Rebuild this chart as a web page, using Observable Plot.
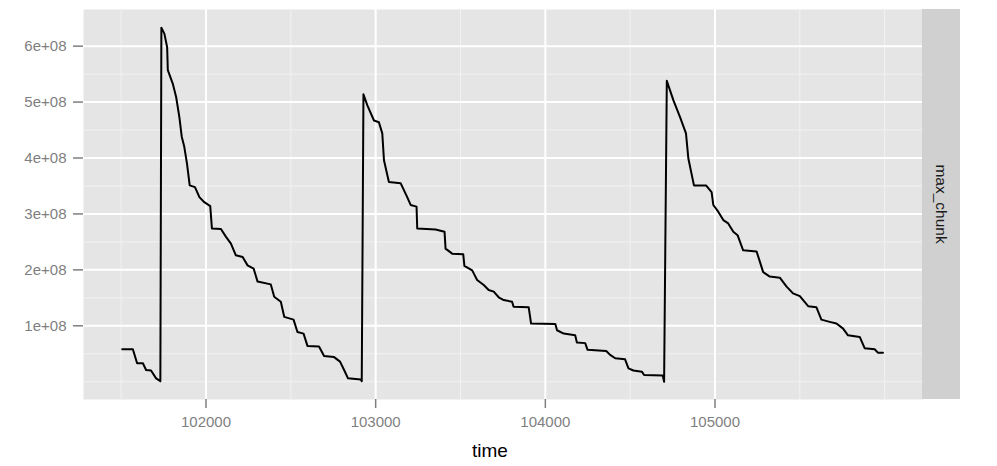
<!DOCTYPE html>
<html>
<head>
<meta charset="utf-8">
<script src="https://cdn.jsdelivr.net/npm/d3@7"></script>
<script src="https://cdn.jsdelivr.net/npm/@observablehq/plot@0.6"></script>
<style>
  html, body { margin: 0; padding: 0; background: #ffffff; }
  #chart { width: 997px; height: 466px; }
</style>
</head>
<body>
<div id="chart"></div>
<script>
// ---- data ----
const time = [
  101506, 101569, 101594, 101628, 101647, 101676, 101706, 101731,
  101737, 101755, 101771, 101775, 101804, 101824, 101843, 101857, 101872, 101888, 101904,
  101935, 101961, 101990, 102025, 102035, 102088, 102118, 102147, 102176, 102216, 102245,
  102281, 102304, 102382, 102402, 102441, 102461, 102516, 102539, 102575, 102598, 102666,
  102696, 102755, 102790, 102814, 102837, 102912, 102918,
  102928, 102951, 102990, 103019, 103039, 103049, 103078, 103147, 103186, 103206, 103241,
  103245, 103353, 103406, 103412, 103451, 103516, 103523, 103569, 103598, 103637, 103666,
  103696, 103725, 103755, 103804, 103813, 103902, 103916, 104059, 104069, 104108, 104176,
  104186, 104235, 104249, 104359, 104382, 104412, 104470, 104490, 104519, 104569, 104582,
  104692, 104700,
  104716, 104755, 104794, 104829, 104843, 104876, 104947, 104980, 104990, 105019, 105049,
  105078, 105108, 105133, 105166, 105245, 105284, 105323, 105382, 105422, 105460, 105500,
  105549, 105598, 105627, 105676, 105716, 105755, 105784, 105853, 105882, 105941, 105960,
  105990
];
const maxChunk = [
  0.58e8, 0.58e8, 0.33e8, 0.33e8, 0.21e8, 0.20e8, 0.06e8, 0.01e8,
  6.33e8, 6.22e8, 5.98e8, 5.57e8, 5.33e8, 5.09e8, 4.73e8, 4.38e8, 4.20e8, 3.90e8, 3.51e8,
  3.48e8, 3.30e8, 3.21e8, 3.14e8, 2.74e8, 2.73e8, 2.59e8, 2.47e8, 2.26e8, 2.23e8, 2.08e8,
  2.02e8, 1.79e8, 1.74e8, 1.52e8, 1.43e8, 1.16e8, 1.11e8, 0.89e8, 0.86e8, 0.64e8, 0.63e8,
  0.46e8, 0.44e8, 0.36e8, 0.21e8, 0.06e8, 0.04e8, 0.01e8,
  5.14e8, 4.94e8, 4.67e8, 4.64e8, 4.44e8, 3.96e8, 3.57e8, 3.55e8, 3.30e8, 3.16e8, 3.13e8,
  2.74e8, 2.72e8, 2.68e8, 2.38e8, 2.29e8, 2.28e8, 2.07e8, 1.99e8, 1.82e8, 1.73e8, 1.64e8,
  1.61e8, 1.51e8, 1.46e8, 1.43e8, 1.34e8, 1.33e8, 1.04e8, 1.03e8, 0.92e8, 0.86e8, 0.83e8,
  0.70e8, 0.69e8, 0.57e8, 0.55e8, 0.48e8, 0.42e8, 0.40e8, 0.24e8, 0.20e8, 0.18e8, 0.12e8,
  0.11e8, 0.00e8,
  5.38e8, 5.03e8, 4.73e8, 4.44e8, 3.99e8, 3.51e8, 3.51e8, 3.39e8, 3.16e8, 3.04e8, 2.89e8,
  2.83e8, 2.68e8, 2.62e8, 2.35e8, 2.33e8, 1.96e8, 1.88e8, 1.86e8, 1.70e8, 1.58e8, 1.53e8,
  1.35e8, 1.33e8, 1.11e8, 1.07e8, 1.04e8, 0.95e8, 0.83e8, 0.80e8, 0.60e8, 0.58e8, 0.52e8,
  0.52e8
];
const xMajor = [102000, 103000, 104000, 105000];
const xMinor = [101500, 102500, 103500, 104500, 105500, 106000];
const yMajor = [1e8, 2e8, 3e8, 4e8, 5e8, 6e8];
const yMinor = [0, 0.5e8, 1.5e8, 2.5e8, 3.5e8, 4.5e8, 5.5e8];
const xDomain = [101278, 106223];
const yDomain = [-0.318e8, 6.655e8];
const facetLabel = "max_chunk";
const xTitle = "time";

const data = time.map((t, i) => ({time: t, value: maxChunk[i]}));

const W = 997, H = 466;
const mLeft = 83, mRight = 75, mTop = 9, mBottom = 67;

const chart = Plot.plot({
  width: W,
  height: H,
  marginLeft: mLeft,
  marginRight: mRight,
  marginTop: mTop,
  marginBottom: mBottom,
  style: {fontFamily: "'Liberation Sans', Arial, sans-serif", background: "#ffffff"},
  x: {domain: xDomain},
  y: {domain: yDomain},
  marks: [
    Plot.frame({fill: "#e5e5e5", stroke: null}),
    Plot.ruleX(xMinor, {stroke: "#f2f2f2", strokeWidth: 1}),
    Plot.ruleY(yMinor, {stroke: "#f2f2f2", strokeWidth: 1}),
    Plot.ruleX(xMajor, {stroke: "#ffffff", strokeWidth: 2}),
    Plot.ruleY(yMajor, {stroke: "#ffffff", strokeWidth: 2}),
    Plot.axisY({ticks: yMajor, tickFormat: d => `${d / 1e8}e+08`, tickSize: 10, tickPadding: 7,
      fontSize: 15, color: "#7f7f7f", strokeWidth: 1.5, label: null}),
    Plot.axisX({ticks: xMajor, tickFormat: d => String(d), tickSize: 9, tickPadding: 8,
      fontSize: 15, color: "#7f7f7f", strokeWidth: 1.5, label: null}),
    Plot.line(data, {x: "time", y: "value", stroke: "#000000", strokeWidth: 2, strokeLinejoin: "round"})
  ]
});

const svg = d3.select(chart);
// facet strip on the right
svg.append("rect")
  .attr("x", W - mRight).attr("y", mTop)
  .attr("width", 38).attr("height", H - mTop - mBottom)
  .attr("fill", "#d0d0d0");
svg.append("text")
  .attr("transform", `translate(${W - mRight + 19},${mTop + (H - mTop - mBottom) / 2}) rotate(90)`)
  .attr("text-anchor", "middle")
  .attr("dy", "0.35em")
  .attr("font-size", 15.5)
  .attr("fill", "#1a1a1a")
  .text(facetLabel);
// x axis title
svg.append("text")
  .attr("x", 490).attr("y", 450)
  .attr("text-anchor", "middle")
  .attr("dy", "0.35em")
  .attr("font-size", 19)
  .attr("fill", "#000000")
  .text(xTitle);

document.getElementById("chart").appendChild(chart);
</script>
</body>
</html>
